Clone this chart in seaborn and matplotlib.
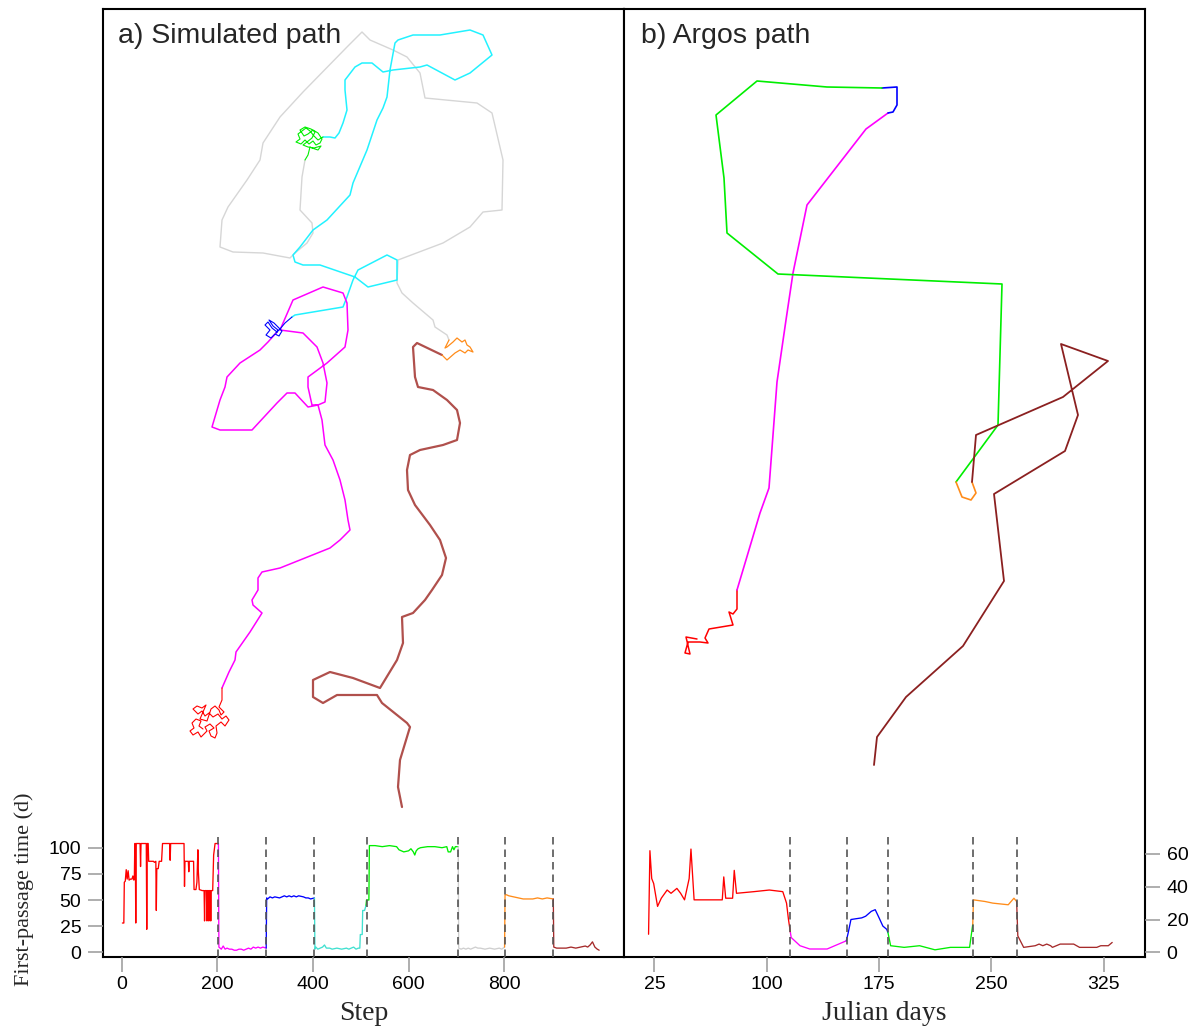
import numpy as np
import pandas as pd
import matplotlib
matplotlib.use("Agg")
import matplotlib.pyplot as plt
import seaborn as sns

# ---------------------------------------------------------------------------
# Track data (map units: easting, northing)
# ---------------------------------------------------------------------------
# a) simulated path, one list of (east, north) per behavioural segment
sim_red = [(100,228),(96,231),(98,236),(93,238),(89,234),(91,229),(87,226),(90,222),(95,225),(98,220),
           (101,223),(104,226),(102,230),(107,233),(111,229),(106,226),(108,221),(112,219),(114,224),
           (113,231),(118,235),(122,231),(126,237),(123,241),(119,238),(115,243),(110,240),(106,244),
           (102,241),(99,246),(95,243),(90,248),(94,251),(99,249),(103,252),(97,238),(104,236),(108,248),
           (112,251),(116,247),(118,242),(121,245),(116,250),(119,257),(119,269)]
sim_magenta = [(119,269),(126,285),(132,297),(133,305),(147,325),(159,344),(150,352),(149,357),(155,367),
               (155,379),(159,385),(177,389),(197,397),(227,409),(237,417),(247,427),(245,437),(242,457),
               (237,477),(230,497),(222,512),(219,537),(215,552),(222,555),(224,574),(220,594),(214,610),
               (200,624),(177,627),(190,657),(220,670),(240,664),(244,654),(245,627),(242,610),(224,594),
               (205,580),(205,570),(209,552),(215,552),(205,550),(192,564),(184,564),(174,554),(149,527),
               (117,527),(109,530),(117,557),(122,570),(124,580),(137,594),(157,607),(165,615),(174,625)]
sim_blue = [(174,625),(169,629),(165,635),(162,632),(167,627),(163,622),(168,619),(172,623),(176,621),
            (179,626),(175,630),(171,634),(166,637),(170,631),(175,627),(173,624),(177,628),(182,634),(189,640)]
sim_cyan = [(189,640),(192,642),(240,650),(244,660),(250,677),(255,687),(284,702),(294,697),(294,677),
            (290,676),(265,670),(252,680),(217,692),(200,692),(192,695),(190,702),(197,710),(210,727),
            (224,737),(247,762),(250,774),(264,807),(274,837),(280,849),(284,860),(287,887),(292,914),
            (295,917),(310,922),(337,922),(367,927),(380,922),(389,902),(367,884),(352,877),(324,892),
            (317,890),(290,887),(280,885),(269,894),(259,894),(252,890),(242,877),(242,867),(244,847),
            (240,834),(236,824),(232,819),(227,820),(220,820)]
sim_green = [(220,820),(215,817),(211,821),(207,826),(203,829),(199,826),(195,823),(197,818),(193,815),
             (198,813),(202,817),(206,813),(210,816),(213,812),(217,814),(219,818),(215,824),(210,827),
             (205,823),(201,821),(197,827),(202,830),(208,828),(212,825),(209,819),(204,815),(200,812),
             (205,810),(211,809),(218,811),(215,807),(209,809),(207,810),(205,802),(202,797)]
sim_grey = [(202,797),(199,780),(197,747),(209,734),(210,724),(204,714),(192,704),(187,699),(160,704),
            (130,705),(117,710),(119,737),(125,750),(144,777),(157,797),(160,814),(177,840),(200,865),
            (244,910),(259,925),(267,917),(290,907),(304,900),(317,884),(322,859),(374,854),(389,844),
            (400,797),(399,747),(380,745),(367,730),(340,714),(295,697),(294,674),(299,664),(310,654),
            (330,637),(332,630),(344,622),(346,617)]
sim_orange = [(346,617),(342,609),(344,610),(350,615),(354,619),(359,615),(362,617),(364,612),(367,610),
              (370,605),(365,607),(362,604),(357,607),(352,604),(344,597),(339,602)]
sim_brown = [(339,602),(314,614),(310,610),(312,580),(315,570),(330,567),(344,557),(354,547),(357,534),
             (354,517),(340,512),(317,507),(307,502),(304,487),(305,467),(312,452),(327,432),(337,417),
             (343,399),(339,382),(329,367),(322,357),(310,344),(299,340),(300,314),(294,297),(277,269),
             (250,279),(227,285),(210,277),(210,260),(220,254),(234,262),(274,262),(279,254),(304,234),
             (307,230),(297,197),(295,170),(299,150)]

# b) Argos path
argos_red = [(73,318),(62,320),(66,303),(61,304),(64,315),(76,315),(84,314),(81,319),(85,328),(109,332),
             (105,345),(109,343),(113,348),(113,367)]
argos_magenta = [(113,367),(136,444),(145,469),(153,575),(162,637),(169,684),(183,752),(242,828),(264,844)]
argos_blue = [(264,844),(269,845),(273,852),(273,870),(258,869)]
argos_green = [(258,869),(203,870),(133,876),(92,842),(100,779),(103,724),(154,683),(378,673),(374,532),(332,475)]
argos_orange = [(332,475),(338,460),(347,457),(352,464),(348,475)]
argos_brown = [(348,475),(352,522),(439,560),(484,596),(437,613),(454,542),(441,506),(370,463),(380,376),
               (339,311),(282,260),(253,220),(250,192)]

# ---------------------------------------------------------------------------
# First-passage time series: (time, FPT) per segment
# ---------------------------------------------------------------------------
fpt_sim_red = [(1,28),(4,28),(5,67),(7,68),(9,79),(11,70),(13,78),(15,69),(18,70),(21,70),(23,73),(25,69),
               (26,70),(27,104),(28,104),(29,28),(30,104),(38,104),(39,82),(40,104),(51,104),(52,22),
               (53,104),(55,104),(56,87),(66,87),(68,86),(71,87),(72,40),(73,80),(76,80),(78,87),(83,87),
               (85,104),(100,104),(101,88),(102,104),(130,104),(131,63),(132,87),(139,87),(140,77),(141,87),
               (150,87),(151,60),(155,60),(157,67),(159,98),(160,77),(162,60),(168,59),(172,59),(173,30),
               (174,59),(177,59),(178,30),(179,59),(181,59),(182,30),(183,59),(185,59),(186,30),(187,59),
               (190,59),(192,93),(195,104),(202,104)]
fpt_sim_magenta = [(203,5),(208,3),(212,6),(216,3),(220,4),(225,3),(230,3),(235,2),(240,2),(245,3),(250,3),
                   (255,2),(260,3),(265,4),(270,3),(275,5),(280,4),(285,5),(290,4),(295,5),(302,4)]
fpt_sim_blue = [(303,52),(305,51),(310,53),(315,52),(320,53),(330,52),(335,53),(340,54),(345,53),(350,54),
                (355,53),(360,54),(365,53),(370,54),(380,53),(385,52),(390,52),(395,51),(403,52)]
fpt_sim_cyan = [(404,3),(406,5),(410,3),(415,4),(420,5),(424,7),(428,4),(435,4),(440,3),(450,4),(460,3),
                (470,4),(475,3),(480,4),(485,5),(490,3),(495,4),(498,4),(499,17),(503,17),(504,40),(508,40),
                (511,45)]
fpt_sim_green = [(512,50),(517,50),(518,102),(530,102),(545,101),(560,102),(575,101),(580,98),(590,96),
                 (600,97),(605,99),(610,96),(613,93),(616,97),(620,99),(625,100),(640,101),(655,101),
                 (670,100),(680,101),(683,96),(688,96),(692,101),(695,98),(698,101),(704,101)]
fpt_sim_grey = [(705,4),(710,3),(715,4),(720,3),(725,4),(730,3),(740,5),(745,4),(750,4),(760,3),(770,4),
                (780,3),(790,4),(795,3),(798,4),(801,5)]
fpt_sim_orange = [(802,55),(805,55),(810,54),(820,53),(830,52),(840,51),(850,51),(860,51),(870,52),
                  (880,51),(890,52),(903,51)]
fpt_sim_brown = [(904,5),(910,4),(920,4),(930,4),(940,5),(950,4),(960,5),(970,6),(975,5),(980,7),(985,10),
                 (988,7),(990,5),(995,3),(999,2)]

fpt_argos_red = [(21.1,11),(22.0,62),(23.2,45),(24.5,42),(27.1,28),(29.6,33),(33.5,38),(36.1,36),(40.0,39),
                 (42.5,36),(45.1,32),(48.2,45),(49.4,63),(51.5,32),(70.3,32),(71.3,46),(72.6,33),(77.2,33),
                 (78.3,50),(79.8,36),(91.4,37),(101.7,38),(110.7,37),(113.2,30),(114.5,20),(115.8,12)]
fpt_argos_magenta = [(116.3,9),(122.2,4),(128.7,2),(140.3,2),(145.4,4),(153.1,7)]
fpt_argos_blue = [(154.4,12),(156.2,20),(163.4,21),(166.0,22),(169.8,25),(172.4,26),(175.0,21),(177.5,16),
                  (180.1,14),(180.9,12)]
fpt_argos_green = [(182.7,4),(191.7,3),(202.0,4),(212.3,1.5),(222.6,3),(235.4,3),(237.5,17)]
fpt_argos_orange = [(238.0,32),(245.7,31),(250.9,30),(261.2,29),(265.0,33),(266.8,31)]
fpt_argos_brown = [(267.6,10),(271.5,3),(279.2,4),(281.8,5),(284.3,4),(286.9,5),(289.5,4),(290.7,3),
                   (295.9,5),(304.9,5),(308.8,3),(320.3,3),(323.0,4),(328.0,4),(330.6,6)]

sim_breaks = [202, 302, 403, 512, 704, 801, 903]
argos_breaks = [115.8, 153.6, 180.9, 237.5, 266.8]

sim_xticks = [0, 200, 400, 600, 800]
sim_yticks = [0, 25, 50, 75, 100]
argos_xticks = [25, 100, 175, 250, 325]
argos_yticks = [0, 20, 40, 60]

# ---------------------------------------------------------------------------
sns.set_style("white")
plt.rcParams["font.family"] = ["Liberation Sans", "DejaVu Sans"]

W, H = 1204, 1030
fig = plt.figure(figsize=(W / 100, H / 100), dpi=100)

def frac_x(px):
    return px / W

def frac_y(py):
    return 1 - py / H

top, bottom, strip_top = 9.3, 956.7, 831.7
panels = [(103, 624), (624, 1145)]

seg_cols_map = {
    "red": "#ff0000", "magenta": "#ff00ff", "blue": "#0000ff", "cyan": "#22f2ff",
    "green": "#00ee00", "grey": "#d6d6d6", "orange": "#ff8c1a",
}

def draw_track(ax, pts, color, lw):
    df = pd.DataFrame(pts, columns=["east", "north"])
    sns.lineplot(data=df, x="east", y="north", sort=False, estimator=None,
                 color=color, linewidth=lw, ax=ax, legend=False)

def draw_series(ax, segments):
    prev = None
    for pts, color in segments:
        seq = ([prev] if prev is not None else []) + list(pts)
        df = pd.DataFrame(seq, columns=["t", "fpt"])
        sns.lineplot(data=df, x="t", y="fpt", sort=False, estimator=None,
                     color=color, linewidth=0.95, ax=ax, legend=False)
        prev = pts[-1]

map_axes, strip_axes = [], []
for (x0, x1) in panels:
    m = fig.add_axes([frac_x(x0), frac_y(bottom), (x1 - x0) / W, (bottom - top) / H])
    m.set_xlim(0, x1 - x0)
    m.set_ylim(0.3, bottom - top + 0.3)
    for s in m.spines.values():
        s.set_color("black"); s.set_linewidth(1.5)
    s_ax = fig.add_axes([frac_x(x0), frac_y(bottom), (x1 - x0) / W, (bottom - strip_top) / H])
    s_ax.patch.set_alpha(0)
    for s in s_ax.spines.values():
        s.set_visible(False)
    map_axes.append(m); strip_axes.append(s_ax)

mA, mB = map_axes
sA, sB = strip_axes

# --- map tracks
lw = 1.1
draw_track(mA, sim_grey, seg_cols_map["grey"], 1.0)
draw_track(mA, sim_cyan, seg_cols_map["cyan"], lw)
draw_track(mA, sim_magenta, seg_cols_map["magenta"], lw)
draw_track(mA, sim_brown, "#b0504c", 1.6)
draw_track(mA, sim_orange, seg_cols_map["orange"], 0.9)
draw_track(mA, sim_green, seg_cols_map["green"], 0.8)
draw_track(mA, sim_blue, seg_cols_map["blue"], 0.8)
draw_track(mA, sim_red, seg_cols_map["red"], 0.8)

draw_track(mB, argos_red, seg_cols_map["red"], 1.1)
draw_track(mB, argos_magenta, seg_cols_map["magenta"], 1.2)
draw_track(mB, argos_blue, seg_cols_map["blue"], 1.2)
draw_track(mB, argos_green, seg_cols_map["green"], 1.2)
draw_track(mB, argos_orange, seg_cols_map["orange"], 1.2)
draw_track(mB, argos_brown, "#8b2020", 1.3)

for m in map_axes:
    m.set_xlabel(""); m.set_ylabel("")
    m.set_xticks([]); m.set_yticks([])

mA.text(15 / 521, (bottom - 43) / (bottom - top), "a) Simulated path",
        transform=mA.transAxes, fontsize=20.5, va="baseline", ha="left")
mB.text(17 / 521, (bottom - 43) / (bottom - top), "b) Argos path",
        transform=mB.transAxes, fontsize=20.5, va="baseline", ha="left")

# --- first-passage time strips
draw_series(sA, [(fpt_sim_red, "#ff0000"), (fpt_sim_magenta, "#ff00ff"), (fpt_sim_blue, "#0000ff"),
                 (fpt_sim_cyan, "#40e0d0"), (fpt_sim_green, "#00ee00"), (fpt_sim_grey, "#cfcfcf"),
                 (fpt_sim_orange, "#ff8c1a"), (fpt_sim_brown, "#a52a2a")])
draw_series(sB, [(fpt_argos_red, "#ff0000"), (fpt_argos_magenta, "#ff00ff"), (fpt_argos_blue, "#0000ff"),
                 (fpt_argos_green, "#00ee00"), (fpt_argos_orange, "#ff8c1a"), (fpt_argos_brown, "#a52a2a")])

sA.set_xlim(-39.6, 1051); sA.set_ylim(-4.2, 115.3)
sB.set_xlim(4.7, 352.5); sB.set_ylim(-2.7, 73.6)

for b in sim_breaks:
    sA.axvline(b, color="#555555", lw=1.2, ls=(0, (4.5, 3)), zorder=5)
for b in argos_breaks:
    sB.axvline(b, color="#555555", lw=1.2, ls=(0, (4.5, 3)), zorder=5)

tick_kw = dict(direction="out", length=11, width=1.1, color="#999999",
               labelcolor="black", labelsize=14)
sA.set_xticks(sim_xticks); sA.set_yticks(sim_yticks)
sA.tick_params(axis="x", bottom=True, top=False, pad=3, **tick_kw)
sA.tick_params(axis="y", left=True, right=False, pad=4.5, **tick_kw)
sB.set_xticks(argos_xticks); sB.set_yticks(argos_yticks)
sB.yaxis.tick_right()
sB.tick_params(axis="x", bottom=True, top=False, pad=3, **tick_kw)
sB.tick_params(axis="y", right=True, left=False, labelright=True, labelleft=False, pad=4.5, **tick_kw)
for s_ax in strip_axes:
    s_ax.set_xlabel(""); s_ax.set_ylabel("")

serif = ["Liberation Serif", "DejaVu Serif"]
fig.text(frac_x(363.5), frac_y(1020), "Step", family=serif, fontsize=20,
         ha="center", va="baseline")
fig.text(frac_x(884.5), frac_y(1020), "Julian days", family=serif, fontsize=20,
         ha="center", va="baseline")
fig.text(frac_x(24), frac_y(889), "First-passage time (d)", family=serif, fontsize=16,
         rotation=90, ha="center", va="center")

fig.savefig("out.png", dpi=100)
